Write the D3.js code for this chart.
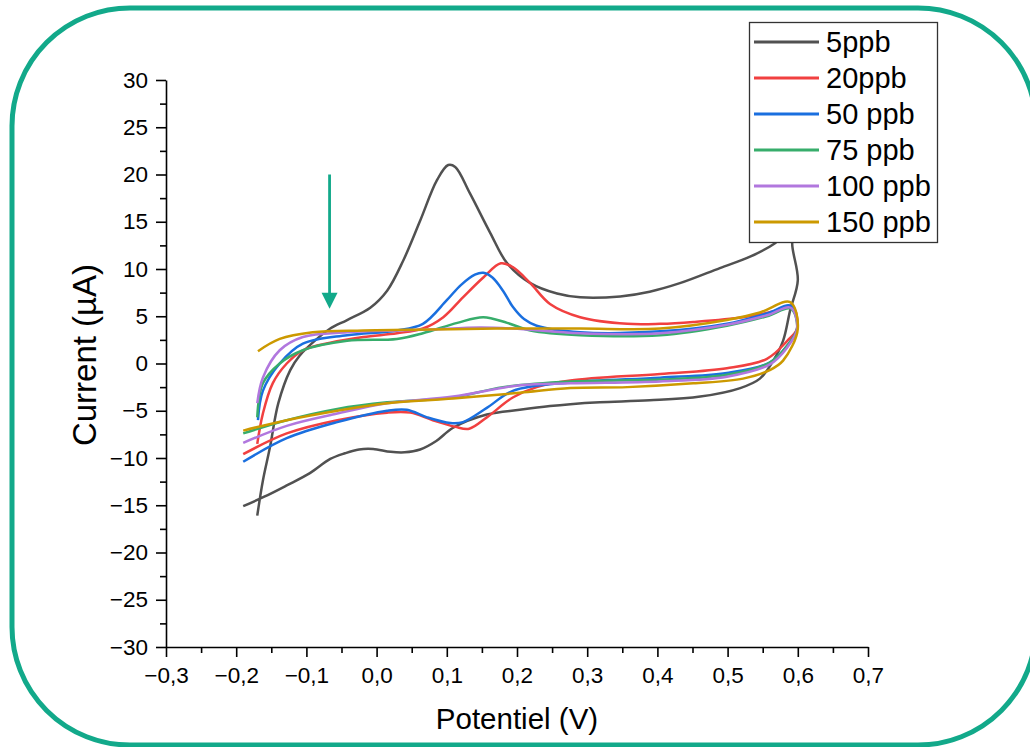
<!DOCTYPE html>
<html>
<head>
<meta charset="utf-8">
<script src="https://cdn.jsdelivr.net/npm/d3@7"></script>
<style>
  html, body { margin: 0; padding: 0; background: #fff; }
  svg { display: block; font-family: Arial, "Liberation Sans", sans-serif; }
</style>
</head>
<body>
<svg id="chart" width="1030" height="747"></svg>
<script>
// ---------- data (potential V, current µA) ----------
const seriesNames = ["5ppb", "20ppb", "50 ppb", "75 ppb", "100 ppb", "150 ppb"];
const seriesColors = ["#515151", "#F14040", "#1A6FDF", "#37AD6B", "#B177DE", "#CC9900"];

const cv5ppb = [
  [-0.170,-16.1],[-0.162,-12.4],[-0.152,-8.9],[-0.140,-4.2],[-0.123,-0.7],[-0.110,0.8],
  [-0.085,2.6],[-0.066,3.7],[-0.042,4.6],[-0.009,5.9],[0.015,7.7],[0.038,10.9],
  [0.062,15.1],[0.086,19.4],[0.102,21.0],[0.112,20.8],[0.133,18.0],[0.162,13.8],
  [0.186,10.6],[0.219,8.5],[0.257,7.4],[0.290,7.0],[0.347,7.1],[0.389,7.6],
  [0.432,8.5],[0.489,10.1],[0.532,11.3],[0.567,12.7],[0.590,14.2],[0.596,14.6],
  [0.592,12.7],[0.600,8.8],[0.589,5.6],[0.579,2.4],[0.565,0.3],[0.546,-1.6],
  [0.518,-2.6],[0.461,-3.5],[0.389,-3.9],[0.318,-4.1],[0.276,-4.3],[0.247,-4.5],
  [0.204,-4.9],[0.157,-5.4],[0.109,-6.8],[0.085,-8.2],[0.062,-9.1],[0.040,-9.4],
  [0.020,-9.35],[-0.005,-9.05],[-0.025,-9.1],[-0.045,-9.5],[-0.066,-10.1],
  [-0.095,-11.6],[-0.128,-12.9],[-0.160,-14.1],[-0.190,-15.1]
];
const cv20ppb = [
  [-0.170,-8.5],[-0.162,-5.3],[-0.148,-2.1],[-0.128,0.0],[-0.105,1.4],[-0.066,2.2],
  [-0.019,2.8],[0.029,3.2],[0.066,3.7],[0.095,4.9],[0.123,7.0],[0.152,9.1],
  [0.177,10.6],[0.194,10.2],[0.219,8.5],[0.247,6.3],[0.290,4.9],[0.357,4.2],
  [0.404,4.2],[0.451,4.4],[0.522,4.9],[0.570,5.6],[0.592,6.1],[0.599,3.7],
  [0.585,2.4],[0.556,0.5],[0.499,-0.5],[0.404,-1.1],[0.276,-1.8],[0.228,-2.5],
  [0.194,-3.6],[0.157,-5.7],[0.132,-6.9],[0.112,-6.7],[0.080,-6.0],[0.048,-5.2],
  [0.015,-5.2],[-0.056,-6.0],[-0.128,-7.4],[-0.190,-9.6]
];
const cv50ppb = [
  [-0.169,-6.0],[-0.162,-2.9],[-0.138,0.0],[-0.105,2.1],[-0.042,3.0],[0.029,3.5],
  [0.066,4.2],[0.100,6.7],[0.120,8.3],[0.140,9.4],[0.152,9.6],[0.165,9.1],
  [0.180,7.7],[0.194,6.0],[0.210,4.7],[0.228,4.0],[0.290,3.3],[0.404,3.4],
  [0.499,4.2],[0.556,5.3],[0.590,6.1],[0.599,3.7],[0.585,1.9],[0.560,0.1],
  [0.499,-1.0],[0.404,-1.5],[0.276,-2.0],[0.194,-2.9],[0.157,-4.7],[0.123,-6.2],
  [0.105,-6.3],[0.072,-5.7],[0.043,-4.9],[0.015,-5.0],[-0.056,-6.2],[-0.128,-7.9],
  [-0.190,-10.4]
];
const cv75ppb = [
  [-0.170,-5.7],[-0.162,-2.1],[-0.138,0.0],[-0.105,1.4],[-0.042,2.4],[0.029,2.6],
  [0.066,3.2],[0.115,4.3],[0.152,4.9],[0.186,4.3],[0.219,3.5],[0.290,3.0],
  [0.404,3.0],[0.499,4.0],[0.556,5.0],[0.590,5.8],[0.599,3.7],[0.585,1.9],
  [0.560,0.1],[0.499,-1.2],[0.404,-1.7],[0.276,-1.9],[0.180,-2.5],[0.109,-3.6],
  [0.015,-4.1],[-0.056,-4.8],[-0.128,-6.0],[-0.190,-7.4]
];
const cv100ppb = [
  [-0.170,-4.2],[-0.162,-1.5],[-0.138,1.4],[-0.105,2.8],[-0.042,3.3],[0.029,3.5],
  [0.076,3.6],[0.147,3.8],[0.194,3.7],[0.290,3.2],[0.404,3.2],[0.499,4.1],
  [0.556,5.1],[0.590,5.9],[0.599,3.7],[0.585,1.7],[0.560,-0.1],[0.499,-1.4],
  [0.404,-1.9],[0.276,-2.1],[0.204,-2.3],[0.109,-3.5],[0.015,-4.2],[-0.056,-5.3],
  [-0.128,-6.6],[-0.190,-8.4]
];
const cv150ppb = [
  [-0.169,1.3],[-0.138,2.6],[-0.091,3.3],[-0.019,3.5],[0.076,3.6],[0.172,3.7],
  [0.290,3.7],[0.404,3.7],[0.499,4.6],[0.546,5.4],[0.589,6.5],[0.600,3.7],
  [0.579,0.3],[0.560,-0.7],[0.522,-1.6],[0.451,-2.1],[0.357,-2.5],[0.276,-2.6],
  [0.204,-3.1],[0.109,-3.7],[0.015,-4.2],[-0.056,-5.0],[-0.128,-6.0],[-0.190,-7.1]
];
const seriesData = [cv5ppb, cv20ppb, cv50ppb, cv75ppb, cv100ppb, cv150ppb];

const xTicks = [-0.3,-0.2,-0.1,0.0,0.1,0.2,0.3,0.4,0.5,0.6,0.7];
const xMinorTicks = [-0.25,-0.15,-0.05,0.05,0.15,0.25,0.35,0.45,0.55,0.65];
const yTicks = [-30,-25,-20,-15,-10,-5,0,5,10,15,20,25,30];
const yMinorTicks = [-27.5,-22.5,-17.5,-12.5,-7.5,-2.5,2.5,7.5,12.5,17.5,22.5,27.5];
const arrowFrom = [-0.067, 20];   // arrow start (V, µA)
const arrowTo = [-0.067, 5.8];    // arrow tip (V, µA)

// ---------- drawing ----------
const svg = d3.select("#chart");
const teal = "#12A98A";

// rounded frame
svg.append("rect")
  .attr("x", 12).attr("y", 8).attr("width", 1024).attr("height", 737)
  .attr("rx", 118).attr("ry", 118)
  .attr("fill", "none").attr("stroke", teal).attr("stroke-width", 5);

const x = d3.scaleLinear().domain([-0.3, 0.7]).range([166, 868]);
const y = d3.scaleLinear().domain([-30, 30]).range([647, 80]);

const fmtX = v => d3.format(".1f")(v).replace(".", ",");
const fmtY = v => d3.format("d")(v);

// curves
const line = d3.line()
  .x(d => x(d[0])).y(d => y(d[1]))
  .curve(d3.curveCatmullRom.alpha(0.5));

svg.append("g").selectAll("path")
  .data(seriesData)
  .join("path")
  .attr("d", line)
  .attr("fill", "none")
  .attr("stroke", (d, i) => seriesColors[i])
  .attr("stroke-width", 2.5)
  .attr("stroke-linejoin", "round");

// axes
function styleAxis(g) {
  g.select(".domain").attr("stroke", "#000").attr("stroke-width", 1.6);
  g.selectAll(".tick line").attr("stroke", "#000").attr("stroke-width", 1.6);
  g.selectAll(".tick text").attr("fill", "#000").style("font-size", "22.5px")
    .style("font-family", "Arial, 'Liberation Sans', sans-serif");
}

svg.append("g")
  .attr("transform", `translate(0,${y(-30)})`)
  .call(d3.axisBottom(x).tickValues(xMinorTicks).tickSize(6).tickFormat(""))
  .call(g => { g.select(".domain").remove(); g.selectAll(".tick line").attr("stroke", "#000").attr("stroke-width", 1.6); });
svg.append("g")
  .attr("transform", `translate(0,${y(-30)})`)
  .call(d3.axisBottom(x).tickValues(xTicks).tickSize(10).tickSizeOuter(0).tickPadding(10).tickFormat(fmtX))
  .call(styleAxis);

svg.append("g")
  .attr("transform", `translate(${x(-0.3)},0)`)
  .call(d3.axisLeft(y).tickValues(yMinorTicks).tickSize(6).tickFormat(""))
  .call(g => { g.select(".domain").remove(); g.selectAll(".tick line").attr("stroke", "#000").attr("stroke-width", 1.6); });
svg.append("g")
  .attr("transform", `translate(${x(-0.3)},0)`)
  .call(d3.axisLeft(y).tickValues(yTicks).tickSize(10).tickSizeOuter(0).tickPadding(8).tickFormat(fmtY))
  .call(styleAxis);

// axis titles
svg.append("text")
  .attr("x", 517).attr("y", 729)
  .attr("text-anchor", "middle")
  .style("font-size", "29.5px").attr("fill", "#000")
  .text("Potentiel (V)");
svg.append("text")
  .attr("transform", "translate(96,355) rotate(-90)")
  .attr("text-anchor", "middle")
  .style("font-size", "33px").attr("fill", "#000")
  .text("Current (µA)");

// arrow
svg.append("line")
  .attr("x1", x(arrowFrom[0])).attr("y1", y(arrowFrom[1]))
  .attr("x2", x(arrowTo[0])).attr("y2", y(arrowTo[1]) - 14)
  .attr("stroke", teal).attr("stroke-width", 2.8);
{
  const tx = x(arrowTo[0]), ty = y(arrowTo[1]);
  svg.append("path")
    .attr("d", `M${tx - 8},${ty - 16} L${tx + 8},${ty - 16} L${tx},${ty} Z`)
    .attr("fill", teal);
}

// legend
const lg = svg.append("g");
lg.append("rect")
  .attr("x", 749.5).attr("y", 22.5).attr("width", 188).attr("height", 220)
  .attr("fill", "#fff").attr("stroke", "#333").attr("stroke-width", 1.3);
seriesNames.forEach((name, i) => {
  const cy = 42 + i * 36;
  lg.append("line")
    .attr("x1", 754).attr("x2", 819).attr("y1", cy).attr("y2", cy)
    .attr("stroke", seriesColors[i]).attr("stroke-width", 3);
  lg.append("text")
    .attr("x", 826).attr("y", cy).attr("dy", "0.35em")
    .style("font-size", "29px").attr("fill", "#000")
    .text(name);
});
</script>
</body>
</html>
